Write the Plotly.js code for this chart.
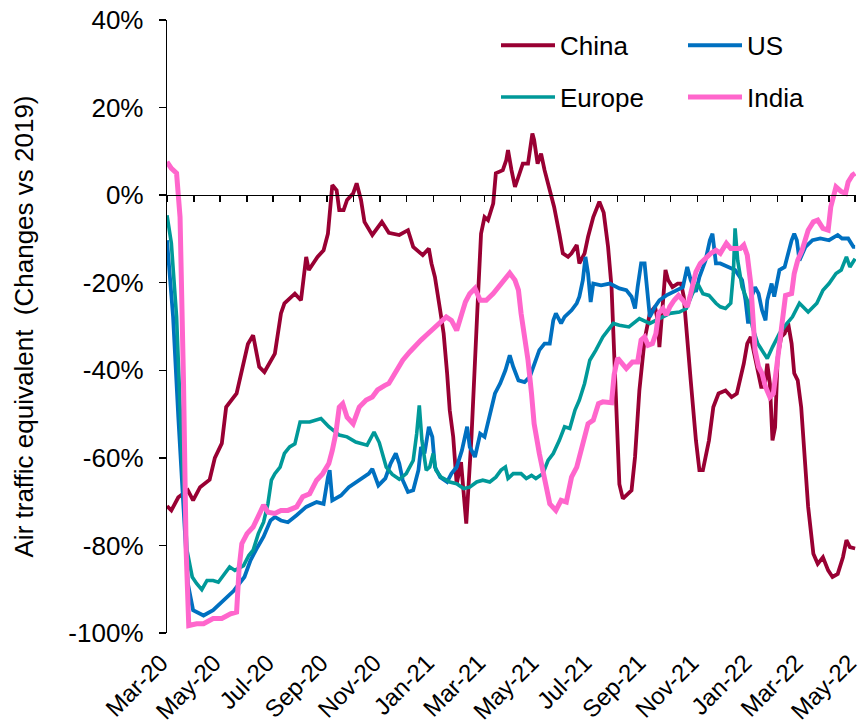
<!DOCTYPE html>
<html>
<head>
<meta charset="utf-8">
<script src="https://cdn.plot.ly/plotly-3.0.1.min.js"></script>
<style>
html,body{margin:0;padding:0;background:#fff;}
#chart{width:862px;height:728px;}
</style>
</head>
<body>
<div id="chart"></div>
<script>
// ---------- data ----------
const seriesNames = ['China', 'US', 'Europe', 'India'];
const seriesColors = ['#990033', '#0070C0', '#009999', '#FF66CC'];

const chinaDates = ['2020-03-01','2020-03-06','2020-03-14','2020-03-25','2020-03-31','2020-04-08','2020-04-19','2020-04-25','2020-05-03','2020-05-08','2020-05-20','2020-05-30','2020-06-02','2020-06-08','2020-06-15','2020-06-21','2020-06-27','2020-07-03','2020-07-10','2020-07-14','2020-07-26','2020-08-02','2020-08-08','2020-08-11','2020-08-21','2020-08-28','2020-09-02','2020-09-07','2020-09-12','2020-09-15','2020-09-20','2020-09-24','2020-10-01','2020-10-05','2020-10-10','2020-10-14','2020-10-23','2020-11-03','2020-11-11','2020-11-23','2020-12-03','2020-12-09','2020-12-20','2020-12-27','2020-12-30','2021-01-03','2021-01-09','2021-01-13','2021-01-17','2021-01-20','2021-01-24','2021-01-28','2021-02-02','2021-02-08','2021-02-14','2021-02-18','2021-02-22','2021-02-25','2021-03-01','2021-03-05','2021-03-11','2021-03-14','2021-03-22','2021-03-26','2021-03-28','2021-04-01','2021-04-05','2021-04-09','2021-04-14','2021-04-20','2021-04-25','2021-04-27','2021-05-01','2021-05-05','2021-05-09','2021-05-15','2021-05-20','2021-05-26','2021-05-30','2021-06-05','2021-06-09','2021-06-15','2021-06-18','2021-06-24','2021-06-28','2021-07-04','2021-07-11','2021-07-16','2021-07-21','2021-07-25','2021-07-28','2021-07-31','2021-08-03','2021-08-07','2021-08-13','2021-08-17','2021-08-21','2021-08-26','2021-09-01','2021-09-07','2021-09-13','2021-09-16','2021-09-18','2021-09-22','2021-09-25','2021-09-28','2021-10-03','2021-10-09','2021-10-13','2021-10-16','2021-10-20','2021-10-24','2021-10-30','2021-11-03','2021-11-07','2021-11-10','2021-11-14','2021-11-19','2021-11-25','2021-12-03','2021-12-10','2021-12-16','2021-12-20','2021-12-24','2021-12-28','2022-01-01','2022-01-05','2022-01-09','2022-01-13','2022-01-17','2022-01-20','2022-01-23','2022-01-26','2022-01-29','2022-02-01','2022-02-05','2022-02-09','2022-02-13','2022-02-17','2022-02-20','2022-02-24','2022-02-28','2022-03-04','2022-03-08','2022-03-14','2022-03-19','2022-03-25','2022-03-31','2022-04-05','2022-04-11','2022-04-17','2022-04-21','2022-04-25','2022-05-01'];
const chinaValues = [-71,-72,-69,-67.4,-69.7,-66.7,-65,-60,-56.7,-48.4,-45.3,-37,-34,-32,-39.2,-40.4,-38.5,-36.2,-27,-24.7,-22.5,-24,-14.1,-17.1,-14.1,-12.6,-8.8,2.3,1.1,-3.4,-3.4,-1.1,0.4,2.7,-1.1,-6.1,-9.1,-6.1,-8.6,-9.1,-8,-11.8,-13.7,-12.2,-15.6,-18.7,-26.3,-31.6,-40.7,-49.1,-55.2,-66,-61,-75,-55.2,-36.2,-21,-8.8,-5,-5.7,-1.9,5,5.7,8,10.3,5.7,1.9,4.2,7.2,7.2,14.1,12.6,7.2,9.5,5.7,1.1,-2.7,-8.8,-13.3,-14.1,-13.3,-11.4,-15.6,-13.3,-9.5,-5,-1.5,-4,-11.8,-21,-38,-52,-66,-69.3,-68.2,-67.4,-59.8,-44.6,-33,-27,-25.5,-28.6,-34.7,-23.2,-17.1,-19.4,-21,-20.2,-20.2,-23.2,-31.6,-42.3,-56,-62.8,-62.8,-59.8,-56,-48.4,-45.3,-44.6,-46.1,-45.3,-42.3,-38.5,-33.9,-32.4,-36.2,-40,-43.8,-43.8,-38.5,-43,-56,-53,-37,-32.4,-31.6,-29.3,-33.9,-40.7,-42.3,-48.4,-59.8,-71.2,-81.9,-84.2,-82.7,-85.7,-87.2,-86.5,-82.7,-78.8,-80.4,-80.7];

const usDates = ['2020-03-01','2020-03-08','2020-03-14','2020-03-20','2020-03-25','2020-03-31','2020-04-12','2020-04-23','2020-05-05','2020-05-17','2020-05-29','2020-06-05','2020-06-13','2020-06-20','2020-06-28','2020-07-03','2020-07-10','2020-07-18','2020-07-28','2020-08-08','2020-08-20','2020-08-28','2020-09-02','2020-09-04','2020-09-07','2020-09-17','2020-09-26','2020-10-08','2020-10-19','2020-10-23','2020-10-30','2020-11-07','2020-11-13','2020-11-19','2020-11-23','2020-11-27','2020-12-03','2020-12-09','2020-12-15','2020-12-18','2020-12-22','2020-12-27','2020-12-31','2021-01-03','2021-01-09','2021-01-17','2021-01-22','2021-01-28','2021-02-03','2021-02-09','2021-02-12','2021-02-18','2021-02-24','2021-03-01','2021-03-07','2021-03-13','2021-03-19','2021-03-25','2021-03-30','2021-04-03','2021-04-09','2021-04-16','2021-04-22','2021-04-27','2021-05-03','2021-05-09','2021-05-15','2021-05-19','2021-05-22','2021-05-28','2021-06-01','2021-06-09','2021-06-15','2021-06-18','2021-06-22','2021-06-25','2021-06-28','2021-07-01','2021-07-04','2021-07-13','2021-07-23','2021-08-03','2021-08-11','2021-08-17','2021-08-21','2021-08-24','2021-08-28','2021-09-01','2021-09-04','2021-09-07','2021-09-13','2021-09-18','2021-09-26','2021-10-07','2021-10-15','2021-10-20','2021-10-24','2021-10-30','2021-11-03','2021-11-10','2021-11-15','2021-11-18','2021-11-22','2021-11-27','2021-12-07','2021-12-14','2021-12-22','2021-12-26','2021-12-29','2022-01-02','2022-01-06','2022-01-10','2022-01-14','2022-01-18','2022-01-20','2022-01-25','2022-01-28','2022-02-03','2022-02-09','2022-02-13','2022-02-17','2022-02-20','2022-02-23','2022-02-26','2022-03-05','2022-03-13','2022-03-22','2022-04-01','2022-04-05','2022-04-11','2022-04-16','2022-04-23','2022-04-29','2022-05-01'];
const usValues = [-10.3,-27.8,-50.7,-73.5,-88.7,-94.8,-96,-94.8,-92.5,-90.3,-87.2,-83.4,-80.4,-78,-74.3,-73.5,-74.3,-74.7,-73.1,-71.2,-70.1,-70.5,-64.4,-62.8,-69.7,-68.6,-66.7,-65.1,-63.6,-62.5,-66.3,-64.7,-61.3,-59,-61.3,-65.1,-67.8,-67.4,-62.8,-57.5,-59,-52.9,-55.2,-62.1,-64.4,-65.5,-63.6,-62.1,-58.3,-52.9,-57.5,-59.8,-54.5,-55.2,-49.9,-45.3,-43,-40,-36.6,-39.2,-42.3,-42.7,-41.5,-38.5,-35.4,-33.9,-33.9,-28.6,-27,-29.3,-27.8,-26.3,-24.7,-23.2,-19.4,-14.1,-17.9,-24.4,-20.2,-20.6,-20.2,-21.3,-21.7,-23.2,-25.9,-21,-15.6,-15.6,-22.5,-27.8,-25.5,-24,-22.9,-21.7,-21,-16.4,-19.4,-22.1,-18.7,-14.9,-10.3,-8.8,-15.6,-15.6,-16.4,-17.1,-19.4,-24,-29.3,-23.2,-21,-22.5,-26.3,-28.6,-24,-20.2,-23.2,-17.1,-16.4,-13.3,-10.3,-8.8,-10.3,-14.9,-11.8,-10.3,-9.9,-10.3,-9.9,-9.1,-9.9,-9.9,-11.8,-11.8];

const europeDates = ['2020-03-01','2020-03-06','2020-03-12','2020-03-18','2020-03-24','2020-03-30','2020-04-04','2020-04-10','2020-04-16','2020-04-23','2020-04-29','2020-05-05','2020-05-12','2020-05-18','2020-05-28','2020-06-03','2020-06-08','2020-06-14','2020-06-20','2020-06-25','2020-06-29','2020-07-03','2020-07-09','2020-07-14','2020-07-20','2020-07-26','2020-08-01','2020-08-12','2020-08-25','2020-09-03','2020-09-15','2020-09-24','2020-10-04','2020-10-17','2020-10-25','2020-10-31','2020-11-08','2020-11-15','2020-11-23','2020-12-01','2020-12-09','2020-12-13','2020-12-16','2020-12-19','2020-12-24','2020-12-28','2021-01-01','2021-01-04','2021-01-10','2021-01-20','2021-01-28','2021-02-05','2021-02-12','2021-02-20','2021-02-27','2021-03-07','2021-03-14','2021-03-20','2021-03-25','2021-03-28','2021-04-03','2021-04-12','2021-04-18','2021-04-24','2021-04-29','2021-05-07','2021-05-13','2021-05-19','2021-05-26','2021-06-01','2021-06-07','2021-06-13','2021-06-18','2021-06-24','2021-06-30','2021-07-07','2021-07-15','2021-07-27','2021-08-03','2021-08-14','2021-08-26','2021-09-07','2021-09-18','2021-09-30','2021-10-11','2021-10-19','2021-10-26','2021-11-01','2021-11-07','2021-11-14','2021-11-22','2021-11-27','2021-12-03','2021-12-09','2021-12-12','2021-12-14','2021-12-17','2021-12-22','2021-12-28','2022-01-03','2022-01-09','2022-01-14','2022-01-20','2022-01-26','2022-02-03','2022-02-10','2022-02-18','2022-02-26','2022-03-08','2022-03-18','2022-03-25','2022-04-01','2022-04-09','2022-04-15','2022-04-19','2022-04-21','2022-04-25','2022-05-01'];
const europeValues = [-4.6,-11,-27.8,-58.3,-81.1,-87.2,-88.7,-90.1,-88,-88,-88.4,-86.8,-84.9,-85.7,-84.6,-82.3,-81.1,-77.3,-74.7,-70.5,-65.1,-63.6,-62.1,-59,-57.5,-56.8,-51.8,-51.8,-51,-52.9,-54.8,-55.2,-56.4,-57.1,-54.1,-56.5,-62.1,-63.8,-64.9,-63.6,-60.6,-54.5,-48,-56,-62.8,-62.1,-59,-62.8,-64.4,-65.5,-65.9,-67,-66.7,-65.5,-65.1,-65.5,-64.4,-62.8,-62.1,-64.7,-63.6,-63.6,-64.7,-64,-64.7,-63.6,-60.6,-59,-56,-52.9,-53.3,-49.1,-46.8,-43,-37.7,-35.4,-32.4,-29.3,-29.7,-30.1,-28.2,-29.3,-28.2,-27,-26.7,-25.9,-22.5,-20.2,-22.5,-22.9,-24.7,-25.5,-25.9,-24.7,-17.9,-7.6,-14.9,-21,-24,-30.1,-33.9,-35.4,-37.3,-34.7,-31.6,-29.7,-27.8,-24.7,-26.7,-24.7,-21.7,-20.2,-17.9,-17.1,-14.9,-14.1,-16.4,-14.5];

const indiaDates = ['2020-03-01','2020-03-06','2020-03-12','2020-03-16','2020-03-20','2020-03-23','2020-03-26','2020-04-04','2020-04-12','2020-04-23','2020-05-03','2020-05-13','2020-05-20','2020-05-23','2020-05-26','2020-06-01','2020-06-08','2020-06-14','2020-06-20','2020-06-25','2020-07-03','2020-07-10','2020-07-18','2020-07-28','2020-08-04','2020-08-12','2020-08-20','2020-08-27','2020-09-03','2020-09-07','2020-09-11','2020-09-15','2020-09-19','2020-09-24','2020-10-01','2020-10-08','2020-10-16','2020-10-23','2020-10-29','2020-11-06','2020-11-11','2020-11-17','2020-11-23','2020-11-27','2020-12-05','2020-12-13','2020-12-18','2020-12-24','2021-01-01','2021-01-05','2021-01-10','2021-01-16','2021-01-22','2021-01-28','2021-02-03','2021-02-07','2021-02-12','2021-02-18','2021-02-24','2021-03-03','2021-03-11','2021-03-17','2021-03-22','2021-03-30','2021-04-05','2021-04-09','2021-04-12','2021-04-16','2021-04-20','2021-04-24','2021-04-27','2021-05-03','2021-05-09','2021-05-15','2021-05-22','2021-05-28','2021-06-03','2021-06-09','2021-06-15','2021-06-20','2021-06-28','2021-07-04','2021-07-10','2021-07-15','2021-07-25','2021-07-28','2021-08-01','2021-08-11','2021-08-18','2021-08-24','2021-08-28','2021-09-01','2021-09-05','2021-09-10','2021-09-14','2021-09-17','2021-09-22','2021-09-26','2021-09-30','2021-10-05','2021-10-10','2021-10-15','2021-10-20','2021-10-24','2021-10-30','2021-11-04','2021-11-10','2021-11-16','2021-11-22','2021-11-27','2021-12-04','2021-12-09','2021-12-14','2021-12-20','2021-12-24','2021-12-28','2022-01-01','2022-01-03','2022-01-06','2022-01-10','2022-01-14','2022-01-18','2022-01-23','2022-01-27','2022-01-30','2022-02-02','2022-02-06','2022-02-10','2022-02-17','2022-02-20','2022-02-24','2022-03-01','2022-03-08','2022-03-14','2022-03-19','2022-03-25','2022-03-31','2022-04-03','2022-04-09','2022-04-15','2022-04-20','2022-04-23','2022-04-28','2022-05-01'];
const indiaValues = [7.6,6.1,5,-5,-43,-81.1,-98.3,-97.9,-97.9,-96.7,-96.7,-95.6,-95.2,-84.9,-79.6,-77.3,-75.8,-73.5,-70.8,-72.4,-72.7,-72,-72,-71.2,-68.9,-68.2,-65.1,-63.6,-61.3,-58.3,-54.5,-48.4,-47.6,-50.7,-52.2,-48.4,-46.8,-46.1,-44.5,-43.5,-43,-41,-39,-37.7,-35.8,-33.9,-33.1,-32,-30.5,-29.7,-28.6,-27.8,-28.6,-30.9,-27,-24.4,-22.5,-21.3,-24,-24,-22.5,-21,-19.4,-17.8,-19.4,-21.7,-27,-32.4,-37.7,-45.3,-52.2,-59,-65.1,-70.5,-72,-69.7,-70.1,-64.4,-62.1,-58.3,-52.2,-51.4,-47.6,-47.2,-47.4,-41,-37.2,-39.6,-38.1,-38.1,-33.1,-32.4,-34.3,-33.9,-31.6,-27,-25.9,-27.4,-25.5,-24,-22.9,-24,-25.5,-22.5,-17.5,-15.6,-14.5,-13.3,-12.6,-13.3,-11,-12.2,-12.2,-12.2,-11.4,-13.7,-20.2,-28.6,-35.4,-39.2,-40.7,-43.8,-46.1,-45.3,-40.7,-36.2,-30.1,-22.9,-22.5,-17.9,-14.9,-12.6,-8,-6.1,-5.7,-7.6,-8,-2.7,1.9,0.8,0.4,3,4.6,5];

const yTickValues = [-100, -80, -60, -40, -20, 0, 20, 40];
const yTickLabels = ['-100%', '-80%', '-60%', '-40%', '-20%', '0%', '20%', '40%'];
const xTickDates = ['2020-03-01','2020-05-01','2020-07-01','2020-09-01','2020-11-01','2021-01-01','2021-03-01','2021-05-01','2021-07-01','2021-09-01','2021-11-01','2022-01-01','2022-03-01','2022-05-01'];
const xTickLabels = ['Mar-20','May-20','Jul-20','Sep-20','Nov-20','Jan-21','Mar-21','May-21','Jul-21','Sep-21','Nov-21','Jan-22','Mar-22','May-22'];
const xRange = ['2020-03-01', '2022-05-02'];
const yRange = [-100, 40];
const yTitle = 'Air traffic equivalent \u00a0(Changes vs 2019)';

// ---------- chart ----------
const FONT = '"Liberation Sans", Arial, Helvetica, sans-serif';
const seriesX = [chinaDates, usDates, europeDates, indiaDates];
const seriesY = [chinaValues, usValues, europeValues, indiaValues];
const seriesWidth = [3.8, 3.8, 3.6, 5];
const seriesLegend = ['legend', 'legend2', 'legend', 'legend2'];

const traces = seriesNames.map((name, i) => ({
  type: 'scatter', mode: 'lines', name: name,
  x: seriesX[i], y: seriesY[i],
  line: {color: seriesColors[i], width: seriesWidth[i]},
  legend: seriesLegend[i], legendgroup: name,
  hoverinfo: 'skip'
}));
// empty trace so the zero-line month axis gets its own overlay subplot
traces.push({type: 'scatter', mode: 'lines', x: [], y: [], xaxis: 'x2', yaxis: 'y', showlegend: false, hoverinfo: 'skip'});

const legendCommon = {
  orientation: 'v', xanchor: 'left', yanchor: 'top',
  font: {family: FONT, size: 26, color: '#000'},
  bgcolor: 'rgba(0,0,0,0)', borderwidth: 0,
  itemwidth: 54, tracegroupgap: 15, traceorder: 'grouped'
};

const layout = {
  width: 862, height: 728,
  margin: {l: 167, r: 6, t: 20, b: 95, pad: 0},
  paper_bgcolor: '#fff', plot_bgcolor: '#fff',
  font: {family: FONT, size: 26, color: '#000'},
  showlegend: true,
  xaxis: {
    type: 'date', range: xRange, tickmode: 'array', tickvals: xTickDates, ticktext: xTickLabels,
    tickangle: -45, ticks: '', showline: false, showgrid: false, zeroline: false,
    ticklabelstandoff: 10, ticklabelshift: -6, ticklabeloverflow: 'allow', fixedrange: true,
    tickfont: {family: FONT, size: 24, color: '#000'}
  },
  xaxis2: {
    type: 'date', overlaying: 'x', anchor: 'free',
    position: (0 - yRange[0]) / (yRange[1] - yRange[0]),
    range: xRange, showline: true, linecolor: '#000', linewidth: 1.3,
    ticks: 'outside', ticklen: 6, tickwidth: 1.3, tickcolor: '#000',
    tick0: '2020-03-01', dtick: 'M1', showticklabels: false,
    showgrid: false, zeroline: false, fixedrange: true
  },
  yaxis: {
    range: yRange, tickmode: 'array', tickvals: yTickValues, ticktext: yTickLabels,
    ticks: 'outside', ticklen: 7, tickwidth: 1.3, tickcolor: '#000',
    showline: true, linecolor: '#000', linewidth: 1.3,
    showgrid: false, zeroline: false, fixedrange: true,
    ticklabelstandoff: 10,
    tickfont: {family: FONT, size: 26, color: '#000'},
    title: {text: yTitle, standoff: 27, font: {family: FONT, size: 26, color: '#000'}}
  },
  legend: Object.assign({}, legendCommon, {x: (496 - 167) / 689, y: 0.997}),
  legend2: Object.assign({}, legendCommon, {x: (683 - 167) / 689, y: 0.997})
};

Plotly.newPlot('chart', traces, layout, {displayModeBar: false, staticPlot: true});
</script>
</body>
</html>
